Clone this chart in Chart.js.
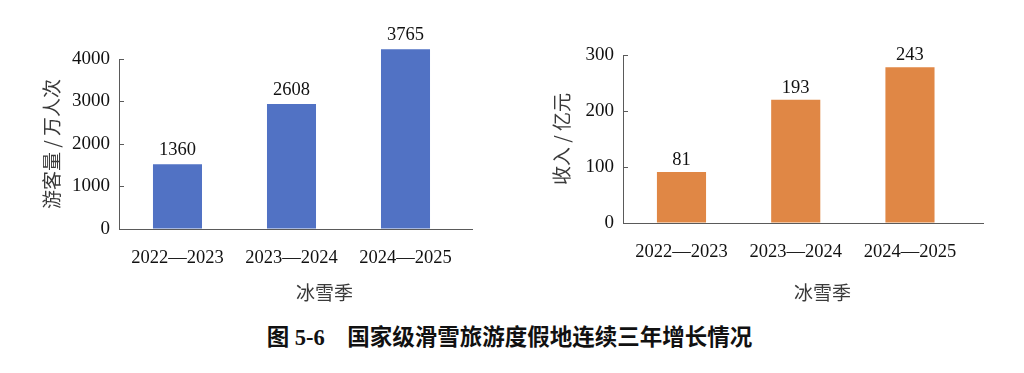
<!DOCTYPE html>
<html><head><meta charset="utf-8">
<script src="https://cdn.jsdelivr.net/npm/chart.js@4/dist/chart.umd.min.js"></script>
<style>
html,body{margin:0;padding:0;background:#fff;width:1024px;height:373px;overflow:hidden;position:relative}
#c1{position:absolute;left:0;top:0}
#c2{position:absolute;left:500px;top:0}
#cap{position:absolute;left:0;width:1019px;top:319px;line-height:26px;text-align:center;font:bold 22.5px "Liberation Serif","Noto Sans CJK SC";color:#111;white-space:pre}
</style></head><body>
<canvas id="c1" width="473" height="310"></canvas>
<canvas id="c2" width="484" height="310"></canvas>
<div id="cap">图 5-6　国家级滑雪旅游度假地连续三年增长情况</div>
<script>
// ---- data ----
const seasons = ['2022—2023', '2023—2024', '2024—2025'];
const visitorBars = [1525, 2940, 4230];          // bar heights as drawn
const visitorLabels = ['1360', '2608', '3765'];   // printed values
const revenueBars = [91, 220, 278];
const revenueLabels = ['81', '193', '243'];
const visitorTicks = [0, 1000, 2000, 3000, 4000];
const revenueTicks = [0, 100, 200, 300];
const xTitle = '冰雪季';
const visitorTitle = '游客量 / 万人次';
const revenueTitle = '收入 / 亿元';

const SERIF = 'Liberation Serif';
const CJK = 'Noto Sans CJK SC';

const valueLabels = {
  id: 'valueLabels',
  afterDatasetsDraw(chart, args, opts) {
    const ctx = chart.ctx;
    const meta = chart.getDatasetMeta(0);
    ctx.save();
    ctx.font = opts.font;
    ctx.fillStyle = '#111';
    ctx.textAlign = 'center';
    ctx.textBaseline = 'middle';
    meta.data.forEach((bar, i) => ctx.fillText(opts.labels[i], bar.x, bar.y - opts.offset));
    ctx.restore();
  }
};

function makeChart(id, cfg) {
  return new Chart(document.getElementById(id), {
    type: 'bar',
    data: {
      datasets: [{
        data: cfg.values.map((v, i) => ({x: i, y: v})),
        backgroundColor: cfg.color,
        borderWidth: 0,
        barPercentage: 0.43,
        categoryPercentage: 1,
        clip: false
      }]
    },
    options: {
      responsive: false,
      animation: false,
      events: [],
      layout: {padding: {top: cfg.top, left: 0, right: 0, bottom: 0}},
      plugins: {
        legend: {display: false},
        tooltip: {enabled: false},
        valueLabels: {labels: cfg.labels, font: '18.5px "' + SERIF + '"', offset: cfg.labelOffset}
      },
      scales: {
        x: {
          type: 'linear',
          offset: false,
          min: cfg.xmin, max: cfg.xmax,
          afterBuildTicks: s => { s.ticks = seasons.map((_, i) => ({value: i})); },
          afterFit: s => { s.height = cfg.xHeight; },
          ticks: {
            callback: v => seasons[v],
            font: {family: SERIF, size: 18.5},
            color: '#111',
            padding: 18,
            maxRotation: 0,
            autoSkip: false
          },
          grid: {display: false, drawTicks: false, offset: false},
          border: {display: true, color: '#5a5a5a', width: 1},
          title: {
            display: true,
            text: cfg.xShift + xTitle,
            font: {family: CJK, size: 19},
            color: '#3a3a3a',
            padding: {top: 0, bottom: 6}
          }
        },
        y: {
          min: 0, max: cfg.ymax,
          afterBuildTicks: s => { s.ticks = cfg.ticks.map(v => ({value: v})); },
          afterFit: s => { s.width = cfg.yWidth; },
          ticks: {
            callback: v => String(v),
            font: {family: SERIF, size: 19},
            color: '#111',
            padding: 14
          },
          grid: {display: true, drawOnChartArea: false, drawTicks: true, tickLength: -5, color: '#5a5a5a'},
          border: {display: true, color: '#5a5a5a', width: 1},
          title: {
            display: true,
            text: cfg.yTitle,
            font: {family: CJK, size: 19},
            color: '#3a3a3a',
            padding: {top: cfg.yTitlePad, bottom: 0}
          }
        }
      }
    },
    plugins: [valueLabels]
  });
}

makeChart('c1', {
  values: visitorBars, labels: visitorLabels, color: '#5172C4',
  ticks: visitorTicks, ymax: 4000, yTitle: visitorTitle,
  top: 59, xHeight: 81, yWidth: 119, yTitlePad: 40,
  xmin: -0.513, xmax: 2.592, xShift: '\u3000\u3000\u3000', labelOffset: 14
});

makeChart('c2', {
  values: revenueBars, labels: revenueLabels, color: '#E08745',
  ticks: revenueTicks, ymax: 300, yTitle: revenueTitle,
  top: 55, xHeight: 87, yWidth: 123, yTitlePad: 50,
  xmin: -0.512, xmax: 2.648, xShift: '\u3000\u3000', labelOffset: 12
});
</script>
</body></html>
